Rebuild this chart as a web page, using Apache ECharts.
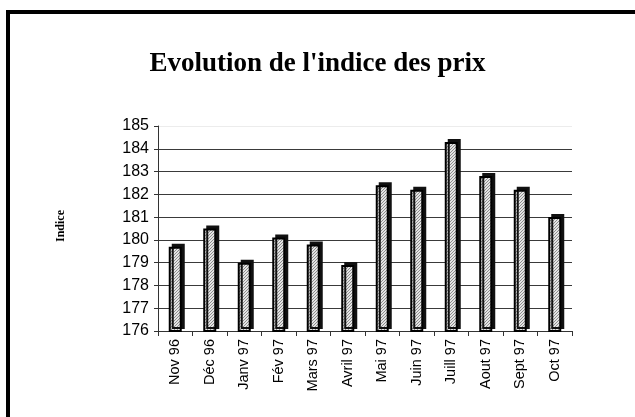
<!DOCTYPE html>
<html>
<head>
<meta charset="utf-8">
<script src="https://cdn.jsdelivr.net/npm/echarts@6/dist/echarts.min.js"></script>
<style>
  html, body { margin: 0; padding: 0; background: #fff; }
  #chart { width: 635px; height: 417px; }
</style>
</head>
<body>
<div id="chart"></div>
<script>
// Price index by month
const months = ['Nov 96', 'Déc 96', 'Janv 97', 'Fév 97', 'Mars 97', 'Avril 97',
  'Mai 97', 'Juin 97', 'Juill 97', 'Aout 97', 'Sept 97', 'Oct 97'];
const indexValues = [179.7, 180.5, 179.0, 180.1, 179.8, 178.9,
  182.4, 182.2, 184.3, 182.8, 182.2, 181.0];
const yTicks = [176, 177, 178, 179, 180, 181, 182, 183, 184, 185];

// hatched fill for the bars
function makeHatch() {
  const c = document.createElement('canvas');
  c.width = 3;
  c.height = 3;
  const ctx = c.getContext('2d');
  ctx.fillStyle = '#e4e4e4';
  ctx.fillRect(0, 0, 3, 3);
  ctx.fillStyle = '#8c8c8c';
  for (let i = 0; i < 3; i++) {
    ctx.fillRect(i, 2 - i, 1, 1);
  }
  return c;
}

const chart = echarts.init(document.getElementById('chart'));
const gridColors = yTicks.map((v, i) => (i === yTicks.length - 1 ? '#ececec' : '#3a3a3a'));

chart.setOption({
  animation: false,
  title: {
    text: "Evolution de l'indice des prix",
    left: 'center',
    top: 46,
    textStyle: {
      fontFamily: 'Liberation Serif',
      fontWeight: 'bold',
      fontSize: 27,
      color: '#000',
    },
  },
  graphic: [
    {
      type: 'rect',
      shape: { x: 8, y: 12, width: 700, height: 500 },
      style: { fill: 'none', stroke: '#000', lineWidth: 4 },
    },
    {
      type: 'text',
      left: 55,
      top: 210,
      rotation: Math.PI / 2,
      style: {
        text: 'Indice',
        font: 'bold 12px "Liberation Serif"',
        fill: '#000',
      },
    },
  ],
  grid: {
    left: 158,
    right: 63,
    top: 126,
    bottom: 86,
  },
  xAxis: {
    type: 'category',
    data: months,
    axisLine: { lineStyle: { color: '#333', width: 1 } },
    axisTick: { show: true, length: 5, lineStyle: { color: '#333' } },
    axisLabel: {
      rotate: 90,
      margin: 8,
      color: '#000',
      fontFamily: 'Liberation Sans',
      fontSize: 14.5,
    },
  },
  yAxis: {
    type: 'value',
    min: 176,
    max: 185,
    interval: 1,
    axisLine: { show: true, lineStyle: { color: '#333', width: 1 } },
    axisTick: { show: true, length: 4, lineStyle: { color: '#333' } },
    axisLabel: {
      color: '#000',
      fontFamily: 'Liberation Sans',
      fontSize: 16,
      margin: 9,
    },
    splitLine: { show: true, lineStyle: { color: gridColors, width: 1 } },
  },
  series: [
    {
      type: 'bar',
      data: indexValues,
      barWidth: 13,
      itemStyle: {
        color: { image: makeHatch(), repeat: 'repeat' },
        borderColor: '#000',
        borderWidth: 2,
        shadowColor: '#111',
        shadowBlur: 0,
        shadowOffsetX: 3,
        shadowOffsetY: -3,
      },
    },
  ],
});
</script>
</body>
</html>
